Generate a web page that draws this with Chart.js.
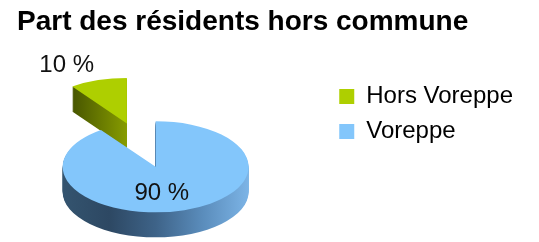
<!DOCTYPE html>
<html>
<head>
<meta charset="utf-8">
<title>Part des résidents hors commune</title>
<script src="https://cdn.jsdelivr.net/npm/chart.js@4.4.0/dist/chart.umd.min.js"></script>
<style>
  html, body { margin: 0; padding: 0; background: #fff; }
  #wrap { width: 539px; height: 242px; }
</style>
</head>
<body>
<div id="wrap"><canvas id="pie"></canvas></div>
<script>
  const categories = ['Hors Voreppe', 'Voreppe'];
  const shares = [10, 90];
  const topColors = ['#aecf00', '#83c6fb'];

  // Fake 3D: tilt the pie, extrude the slices downward, pull slice 0 out
  const pie3d = {
    id: 'pie3d',
    beforeDatasetsDraw(chart, args, opts) {
      const ctx = chart.ctx;
      const k = opts.tilt;
      const depth = opts.depth;
      const arcs = chart.getDatasetMeta(0).data;

      const parts = arcs.map((el, i) => {
        const p = el.getProps(['x', 'y', 'startAngle', 'endAngle', 'outerRadius'], true);
        const mid = (p.startAngle + p.endAngle) / 2;
        const e = opts.explode[i] * p.outerRadius;
        return {
          el, p, mid,
          cx: p.x + opts.shiftX + Math.cos(mid) * e,
          cy: p.y + opts.shiftY + Math.sin(mid) * e * k
        };
      });

      parts.forEach((s, i) => {
        const r = s.p.outerRadius;
        const g = ctx.createLinearGradient(s.cx - r, 0, s.cx + r, 0);
        opts.sideStops[i].forEach(([at, c]) => g.addColorStop(at, c));
        ctx.fillStyle = g;
        for (let d = depth; d > 0; d--) {
          ctx.beginPath();
          ctx.moveTo(s.cx, s.cy + d);
          ctx.ellipse(s.cx, s.cy + d, r, r * k, 0, s.p.startAngle, s.p.endAngle);
          ctx.closePath();
          ctx.fill();
        }
        // top face is the library's own arc, squashed
        ctx.save();
        ctx.translate(s.cx, s.cy);
        ctx.scale(1, k);
        ctx.translate(-s.p.x, -s.p.y);
        s.el.draw(ctx);
        ctx.restore();
      });

      // value labels
      ctx.save();
      ctx.font = opts.labelFont;
      ctx.fillStyle = '#111';
      ctx.textAlign = 'center';
      ctx.textBaseline = 'middle';
      parts.forEach((s, i) => {
        const lab = opts.labels[i];
        const r = s.p.outerRadius * lab.r;
        const lx = s.cx + Math.cos(s.mid) * r + lab.dx;
        const ly = s.cy + Math.sin(s.mid) * r * k + lab.dy;
        ctx.fillText(shares[i] + ' %', lx, ly);
      });
      ctx.restore();
      return false;
    }
  };

  new Chart(document.getElementById('pie'), {
    type: 'pie',
    data: {
      labels: categories,
      datasets: [{
        data: shares,
        backgroundColor: topColors,
        borderWidth: 0,
        rotation: -36,
        radius: 93
      }]
    },
    options: {
      responsive: true,
      maintainAspectRatio: false,
      animation: false,
      layout: { padding: { left: 17, right: 16, top: 0, bottom: 0 } },
      plugins: {
        title: {
          display: true,
          text: 'Part des résidents hors commune',
          align: 'start',
          color: '#000',
          font: { family: 'Liberation Sans', size: 28, weight: 'bold' },
          padding: { top: 5, bottom: 35 }
        },
        legend: {
          position: 'right',
          align: 'start',
          fullSize: false,
          labels: {
            boxWidth: 15,
            boxHeight: 15,
            padding: 11,
            color: '#000',
            font: { family: 'Liberation Sans', size: 24 }
          }
        },
        tooltip: { enabled: false },
        pie3d: {
          tilt: 0.49,
          depth: 25,
          shiftX: -17,
          shiftY: 9,
          explode: [1, 0],
          sideStops: [
            [[0, '#3e4a00'], [0.2, '#465400'], [0.5, '#879c00'], [1, '#9ab200']],
            [[0, '#34546f'], [0.25, '#2d4863'], [0.5, '#3e6388'], [0.75, '#5a8cbb'], [1, '#7cb4e6']]
          ],
          labelFont: '24px "Liberation Sans"',
          labels: [
            { r: 1.45, dx: -18.5, dy: 5 },
            { r: 0.53, dx: -9, dy: 4 }
          ]
        }
      }
    },
    plugins: [pie3d]
  });
</script>
</body>
</html>
